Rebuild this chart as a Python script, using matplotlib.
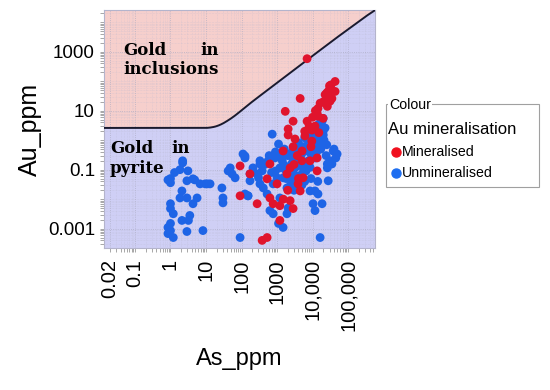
import numpy as np
import matplotlib
matplotlib.use("Agg")
import matplotlib.pyplot as plt
from matplotlib.patches import Rectangle
from matplotlib.lines import Line2D
from matplotlib.ticker import LogLocator, NullFormatter

# boundary between "gold in inclusions" and "gold in pyrite"
limit_as = [0.0134, 6.8, 13, 25, 58, 174, 525, 4470, 38000, 350000, 575000]
limit_au = [2.6, 2.6, 2.6, 3.2, 6.0, 17.8, 49, 347, 2450, 17400, 25700]

# mineralised samples
min_as = [7000, 43000, 27500, 43000, 27500, 31000, 26000, 35000, 4470, 14200,
          13400, 19800, 2830, 7000, 2050, 3200, 6100, 1480, 5050, 13400,
          630, 2330, 1900, 173, 525, 5400, 3900, 1000, 4470, 630,
          775, 1200, 2330, 275, 2830, 1200, 525, 380, 91, 91,
          13400, 8500, 11700, 9500, 1700, 2050, 2830, 31000, 22500, 16300,
          14200, 9500, 33000, 3700,
          8000, 10000, 12000, 6000, 20000, 25000, 3000, 5000, 15000, 9000,
          2000, 1500, 4000, 30000]
min_au = [580, 98, 45, 45, 30, 21, 14, 26, 26, 12,
          8.2, 5.5, 4.4, 4.4, 2.4, 1.1, 1.4, 0.43, 0.43, 0.25,
          0.156, 0.115, 0.072, 0.072, 0.049, 0.053, 0.033, 0.033, 0.019, 0.011,
          0.007, 0.006, 0.0089, 0.007, 0.0048, 0.0019, 0.0005, 0.0004, 0.013, 0.134,
          0.091, 0.2, 3.0, 0.93, 9.5, 1.5, 0.6, 60, 35, 18,
          6.5, 2.2, 75, 0.3,
          3, 6, 10, 2, 20, 40, 0.15, 0.2, 1.8, 0.6,
          0.02, 0.01, 0.05, 70]

# unmineralised samples
unmin_as = [19800, 18500, 16300, 19800, 13400, 9500, 7000, 4470, 3700, 2830,
            5400, 2330, 1200, 1000, 775, 1400, 870, 560, 330, 210,
            173, 300, 330, 410, 173, 125, 110, 125, 152, 525,
            630, 775, 2050, 1900, 1480, 1100, 8500, 11700, 14200, 10300,
            18500, 11700, 27500, 26000, 31000, 38000, 49000, 35000, 26000, 730,
            1100, 7000, 11700, 7600, 4470, 9500, 3200, 2330, 1480, 16300,
            18500, 22500, 19800, 14200, 7600, 5050, 2830, 1900, 1480, 1200,
            2.2, 1.3, 1.0, 3.1, 2.9, 4.3, 6.8, 13, 9.5, 2.1,
            1.85, 2.9, 5.6, 4.3, 1.0, 1.2, 3.5, 2.1, 1.0, 1.0,
            1.2, 0.85, 0.85, 1.0, 8.2, 28, 30, 30, 48, 54,
            66, 125, 152, 91, 330, 380, 275, 42, 0.85, 1.0,
            2.2, 1.85, 4.8, 11, 3.2, 2.9, 15500, 21000, 17000, 12500,
            6500, 4000, 2500, 1700, 40000, 45000, 900, 3000, 6000, 24000,
            1500, 2000, 2500, 3000, 3500, 4000, 5000, 6000, 8000, 10000,
            12000, 15000, 1800, 2200, 2700, 3300, 4200, 5500, 7000, 9000,
            11000, 13000, 1300, 1600, 2400, 3800, 6500, 8500, 12000, 17000,
            20000, 25000, 900, 700, 600, 450, 3000, 5000, 9000, 14000]
unmin_au = [5.5, 2.6, 1.2, 0.74, 0.43, 0.25, 0.43, 0.25, 0.156, 0.2,
            0.115, 0.091, 0.115, 0.053, 0.033, 0.2, 0.25, 0.2, 0.2, 0.115,
            0.072, 0.053, 0.033, 0.024, 0.042, 0.25, 0.34, 0.015, 0.013, 0.015,
            0.0041, 0.0032, 0.005, 0.0032, 0.0011, 0.0015, 0.019, 0.019, 0.015, 0.007,
            0.007, 0.0041, 0.042, 0.115, 0.2, 0.43, 0.34, 0.156, 0.156, 1.6,
            0.74, 2.0, 1.2, 0.93, 0.54, 1.6, 0.34, 0.34, 0.43, 0.0005,
            4.4, 2.6, 2.0, 0.74, 0.2, 0.072, 0.042, 0.024, 0.053, 0.011,
            0.17, 0.08, 0.036, 0.091, 0.042, 0.049, 0.033, 0.033, 0.033, 0.019,
            0.011, 0.011, 0.011, 0.007, 0.007, 0.0032, 0.0028, 0.0019, 0.0015, 0.00086,
            0.0005, 0.0011, 0.00068, 0.0048, 0.00086, 0.024, 0.011, 0.0075, 0.115, 0.072,
            0.053, 0.29, 0.013, 0.0005, 0.156, 0.091, 0.072, 0.091, 0.045, 0.05,
            0.2, 0.1, 0.045, 0.033, 0.0019, 0.0008, 3.5, 1.0, 0.5, 0.3,
            0.6, 0.3, 0.15, 0.1, 0.5, 0.25, 0.09, 0.07, 0.04, 0.3,
            0.15, 0.3, 0.1, 0.5, 0.2, 0.8, 0.35, 1.2, 0.6, 1.5,
            2.5, 3.5, 0.05, 0.07, 0.4, 0.12, 0.25, 0.6, 0.15, 0.35,
            0.8, 1.8, 0.3, 0.5, 0.03, 0.06, 0.09, 0.12, 0.25, 0.9,
            1.5, 0.7, 0.4, 0.08, 0.3, 0.15, 0.02, 0.03, 0.05, 0.04]

x_ticks = [0.02, 0.1, 1, 10, 100, 1000, 10000, 100000]
x_labels = ["0.02", "0.1", "1", "10", "100", "1000", "10,000", "100,000"]
y_ticks = [0.001, 0.1, 10, 1000]
y_labels = ["0.001", "0.1", "10", "1000"]

plt.rcParams["font.family"] = ["Liberation Sans", "DejaVu Sans"]

fig = plt.figure(figsize=(5.5, 3.9), dpi=100)
ax = fig.add_axes([0.189, 0.364, 0.493, 0.61])
ax.set_xscale("log")
ax.set_yscale("log")
xmin, xmax = 0.0134, 575000
ymin, ymax = 0.00022, 25700
ax.set_xlim(xmin, xmax)
ax.set_ylim(ymin, ymax)

# shaded fields either side of the limit curve
xs = np.logspace(np.log10(xmin), np.log10(xmax), 600)
ys = 10 ** np.interp(np.log10(xs), np.log10(limit_as), np.log10(limit_au))
# light smoothing of the curve in log space
k = np.ones(25) / 25
ly = np.log10(ys)
ly_pad = np.concatenate([np.full(12, ly[0]), ly, ly[-1] + (ly[-1] - ly[-2]) * np.arange(1, 13)])
ys = 10 ** np.convolve(ly_pad, k, mode="valid")
ax.fill_between(xs, ys, ymax, color="#f6cfcc", zorder=0)
ax.fill_between(xs, ymin, ys, color="#cfcff5", zorder=0)
ax.plot(xs, ys, color="#1a1a2e", lw=1.4, zorder=3)

ax.grid(which="major", color="#a8a8c0", lw=0.6, ls=":", alpha=0.8, zorder=1)
ax.grid(which="minor", color="#b8b8cc", lw=0.4, ls=":", alpha=0.6, zorder=1)
ax.set_axisbelow(True)

ax.scatter(unmin_as, unmin_au, s=40, color="#1e64e6", edgecolors="none", zorder=4)
ax.scatter(min_as, min_au, s=40, color="#e0142d", edgecolors="none", zorder=5)

ax.set_xticks(x_ticks)
ax.set_xticklabels(x_labels, rotation=90, fontsize=14.5)
ax.set_yticks(y_ticks)
ax.set_yticklabels(y_labels, fontsize=13.5)
ax.xaxis.set_minor_locator(LogLocator(base=10, subs=np.arange(2, 10), numticks=20))
ax.yaxis.set_minor_locator(LogLocator(base=10, subs=np.arange(1, 10), numticks=20))
ax.xaxis.set_minor_formatter(NullFormatter())
ax.yaxis.set_minor_formatter(NullFormatter())
ax.tick_params(which="both", colors="#999999", labelcolor="black", length=3, width=0.6)
ax.tick_params(axis="x", which="major", pad=5)
for s in ax.spines.values():
    s.set_color("#b4b4cc")
    s.set_linewidth(0.8)

ax.set_xlabel("As_ppm", fontsize=17, labelpad=12)
ax.set_ylabel("Au_ppm", fontsize=18, labelpad=4)

serif = dict(family="DejaVu Serif", fontweight="bold", fontsize=12, va="baseline",
             transform=ax.transAxes, zorder=6)
ax.text(0.070, 0.81, "Gold", **serif)
ax.text(0.354, 0.81, "in", **serif)
ax.text(0.070, 0.731, "inclusions", **serif)
ax.text(0.022, 0.40, "Gold", **serif)
ax.text(0.247, 0.40, "in", **serif)
ax.text(0.022, 0.315, "pyrite", **serif)

# legend box drawn by hand
W, H = 550.0, 390.0
fig.patches.append(Rectangle((386 / W, 1 - 187 / H), 153 / W, 83 / H, transform=fig.transFigure,
                             facecolor="white", edgecolor="#a0a0a0", lw=0.8))
fig.text(389 / W, 1 - 105 / H, "Colour", fontsize=10.2, va="center", ha="left",
         bbox=dict(facecolor="white", edgecolor="none", pad=0.5))
fig.text(388 / W, 1 - 129 / H, "Au mineralisation", fontsize=12, va="center", ha="left")
fig.text(402 / W, 1 - 152 / H, "Mineralised", fontsize=10.2, va="center", ha="left")
fig.text(402 / W, 1 - 173 / H, "Unmineralised", fontsize=10.2, va="center", ha="left")
fig.add_artist(Line2D([396 / W], [1 - 152 / H], marker="o", ms=6.5, color="#f0101e",
                      transform=fig.transFigure, ls="none"))
fig.add_artist(Line2D([396 / W], [1 - 173 / H], marker="o", ms=6.5, color="#1e6ef0",
                      transform=fig.transFigure, ls="none"))

fig.savefig("out.png", dpi=100)
